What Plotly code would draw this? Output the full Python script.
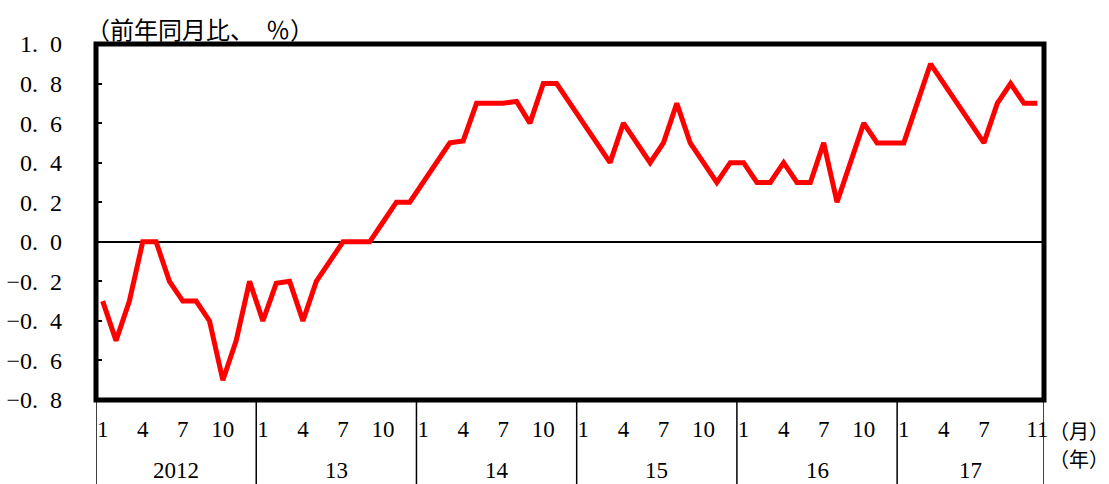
import plotly.graph_objects as go

# ---- data ----
years = ["2012", "13", "14", "15", "16", "17"]
months_per_year = [12, 12, 12, 12, 12, 11]
month_ticks = [1, 4, 7, 10]
last_month_tick = 11
values = [
    -0.3, -0.5, -0.3, 0.0, 0.0, -0.2, -0.3, -0.3, -0.4, -0.7, -0.5, -0.2,   # 2012
    -0.4, -0.21, -0.2, -0.4, -0.2, -0.1, 0.0, 0.0, 0.0, 0.1, 0.2, 0.2,     # 2013
    0.3, 0.4, 0.5, 0.51, 0.7, 0.7, 0.7, 0.71, 0.6, 0.8, 0.8, 0.7,          # 2014
    0.6, 0.5, 0.4, 0.6, 0.5, 0.4, 0.5, 0.7, 0.5, 0.4, 0.3, 0.4,            # 2015
    0.4, 0.3, 0.3, 0.4, 0.3, 0.3, 0.5, 0.2, 0.4, 0.6, 0.5, 0.5,            # 2016
    0.5, 0.7, 0.9, 0.8, 0.7, 0.6, 0.5, 0.7, 0.8, 0.7, 0.7,                 # 2017
]
y_ticks = [1.0, 0.8, 0.6, 0.4, 0.2, 0.0, -0.2, -0.4, -0.6, -0.8]
y_title = "（前年同月比、\u2002％）"
month_unit = "（月）"
year_unit = "（年）"

SERIF = "Liberation Serif, Times New Roman, serif"
CJK = "Noto Sans CJK JP, sans-serif"

x = list(range(len(values)))

# month tick positions/labels
tickvals, ticktext = [], []
start = 0
year_starts = []
for yr, n in zip(years, months_per_year):
    year_starts.append(start)
    ms = list(month_ticks)
    if n < 12:
        ms = [m for m in ms if m <= n - 2] + [last_month_tick]
    for m in ms:
        tickvals.append(start + m - 1)
        ticktext.append(str(m))
    start += n
total = start


def fmt(v):
    s = f"{abs(v):.1f}".replace(".", ".\u2002")
    return ("\u2212" if v < 0 else "") + s


fig = go.Figure()
fig.add_trace(go.Scatter(
    x=x, y=values, mode="lines",
    line=dict(color="#ff0000", width=5),
    hoverinfo="skip", showlegend=False,
))

shapes = []
# plot border
shapes.append(dict(type="rect", xref="paper", yref="paper", x0=0, x1=1, y0=0, y1=1,
                   line=dict(color="black", width=5), layer="above"))
# year separators below axis
for s in year_starts + [total]:
    shapes.append(dict(type="line", xref="x", yref="paper", x0=s - 0.5, x1=s - 0.5,
                       y0=0, y1=-0.25, line=dict(color="black", width=1.5)))

annotations = []
for yr, s, n in zip(years, year_starts, months_per_year):
    annotations.append(dict(x=s - 0.5 + n / 2, y=0, xref="x", yref="paper",
                            text=yr, showarrow=False, yanchor="middle", yshift=-70,
                            font=dict(family=SERIF, size=23, color="black")))
annotations.append(dict(x=total - 0.5, y=0, xref="x", yref="paper", text=month_unit,
                        showarrow=False, xanchor="left", yanchor="middle",
                        xshift=3, yshift=-30, height=27,
                        font=dict(family=CJK, size=20, color="black")))
annotations.append(dict(x=total - 0.5, y=0, xref="x", yref="paper", text=year_unit,
                        showarrow=False, xanchor="left", yanchor="middle",
                        xshift=3, yshift=-58, height=27,
                        font=dict(family=CJK, size=20, color="black")))
annotations.append(dict(x=0, y=1, xref="paper", yref="paper", text=y_title,
                        showarrow=False, xanchor="left", yanchor="middle",
                        yshift=16, xshift=-12,
                        font=dict(family=CJK, size=24, color="black")))

fig.update_layout(
    width=1109, height=484,
    margin=dict(l=96, r=65, t=44, b=84),
    paper_bgcolor="white", plot_bgcolor="white",
    shapes=shapes, annotations=annotations,
    xaxis=dict(range=[-0.5, total - 0.5], tickvals=tickvals, ticktext=ticktext,
               showgrid=False, zeroline=False, showline=False, ticks="",
               ticklabelstandoff=13, automargin=False,
               tickfont=dict(family=SERIF, size=23, color="black")),
    yaxis=dict(range=[-0.8, 1.0], tickvals=y_ticks, ticktext=[fmt(v) for v in y_ticks],
               showgrid=False, zeroline=True, zerolinecolor="black", zerolinewidth=1.5,
               showline=False, ticks="inside", ticklen=6, tickwidth=2, tickcolor="black",
               ticklabelstandoff=33, automargin=False,
               tickfont=dict(family=SERIF, size=24, color="black")),
)

fig.write_html("out.html", config={"displayModeBar": False},
               post_script="document.body.style.margin='0';")
